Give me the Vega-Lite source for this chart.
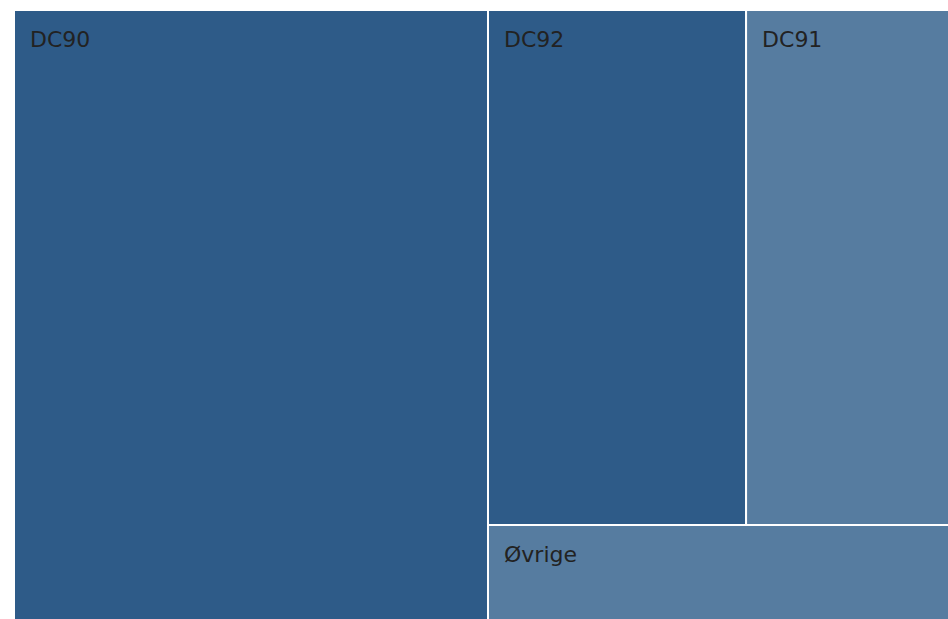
{
  "$schema": "https://vega.github.io/schema/vega-lite/v6.json",
  "padding": {"left": 13, "top": 9, "right": 0, "bottom": 0},
  "background": "white",
  "config": {"view": {"stroke": null}, "concat": {"spacing": 0}},
  "data": {"values": [
    {"name": "DC90", "value": 289100, "rank": 1, "panel": "left"},
    {"name": "DC92", "value": 132900, "rank": 2, "panel": "top"},
    {"name": "DC91", "value": 104500, "rank": 3, "panel": "top"},
    {"name": "Øvrige", "value": 43800, "rank": 4, "panel": "bottom"}
  ]},
  "spacing": 0,
  "bounds": "flush",
  "hconcat": [
    {
      "width": 474,
      "height": 610,
      "transform": [
        {"filter": {"field": "panel", "equal": "left"}},
        {"stack": "value", "groupby": [], "as": ["x0", "x1"], "offset": "normalize", "sort": [{"field": "rank", "order": "ascending"}]}
      ],
      "layer": [
        {
          "mark": {"type": "rect", "stroke": "white", "strokeWidth": 2},
          "encoding": {
            "x": {"field": "x0", "type": "quantitative", "scale": {"domain": [0, 1], "nice": false}, "axis": null},
            "x2": {"field": "x1"},
            "y": {"datum": 0, "type": "quantitative", "scale": {"domain": [0, 1], "nice": false}, "axis": null},
            "y2": {"datum": 1},
            "color": {"field": "name", "type": "nominal", "legend": null, "scale": {"domain": ["DC90", "DC92", "DC91", "Øvrige"], "range": ["#2e5b88", "#2e5b88", "#567ca0", "#567ca0"]}}
          }
        },
        {
          "mark": {"type": "text", "align": "left", "baseline": "alphabetic", "dx": 16, "dy": 37, "font": "DejaVu Sans", "fontSize": 22, "color": "#222222"},
          "encoding": {
            "x": {"field": "x0", "type": "quantitative"},
            "y": {"datum": 1, "type": "quantitative"},
            "text": {"field": "name"}
          }
        }
      ]
    },
    {
      "spacing": 0,
      "bounds": "flush",
      "vconcat": [
        {
          "width": 461,
          "height": 515,
          "transform": [
            {"filter": {"field": "panel", "equal": "top"}},
            {"stack": "value", "groupby": [], "as": ["x0", "x1"], "offset": "normalize", "sort": [{"field": "rank", "order": "ascending"}]}
          ],
          "layer": [
            {
              "mark": {"type": "rect", "stroke": "white", "strokeWidth": 2},
              "encoding": {
                "x": {"field": "x0", "type": "quantitative", "scale": {"domain": [0, 1], "nice": false}, "axis": null},
                "x2": {"field": "x1"},
                "y": {"datum": 0, "type": "quantitative", "scale": {"domain": [0, 1], "nice": false}, "axis": null},
                "y2": {"datum": 1},
                "color": {"field": "name", "type": "nominal", "legend": null}
              }
            },
            {
              "mark": {"type": "text", "align": "left", "baseline": "alphabetic", "dx": 16, "dy": 37, "font": "DejaVu Sans", "fontSize": 22, "color": "#222222"},
              "encoding": {
                "x": {"field": "x0", "type": "quantitative"},
                "y": {"datum": 1, "type": "quantitative"},
                "text": {"field": "name"}
              }
            }
          ]
        },
        {
          "width": 461,
          "height": 95,
          "transform": [
            {"filter": {"field": "panel", "equal": "bottom"}},
            {"stack": "value", "groupby": [], "as": ["x0", "x1"], "offset": "normalize", "sort": [{"field": "rank", "order": "ascending"}]}
          ],
          "layer": [
            {
              "mark": {"type": "rect", "stroke": "white", "strokeWidth": 2},
              "encoding": {
                "x": {"field": "x0", "type": "quantitative", "scale": {"domain": [0, 1], "nice": false}, "axis": null},
                "x2": {"field": "x1"},
                "y": {"datum": 0, "type": "quantitative", "scale": {"domain": [0, 1], "nice": false}, "axis": null},
                "y2": {"datum": 1},
                "color": {"field": "name", "type": "nominal", "legend": null}
              }
            },
            {
              "mark": {"type": "text", "align": "left", "baseline": "alphabetic", "dx": 16, "dy": 37, "font": "DejaVu Sans", "fontSize": 22, "color": "#222222"},
              "encoding": {
                "x": {"field": "x0", "type": "quantitative"},
                "y": {"datum": 1, "type": "quantitative"},
                "text": {"field": "name"}
              }
            }
          ]
        }
      ]
    }
  ]
}
